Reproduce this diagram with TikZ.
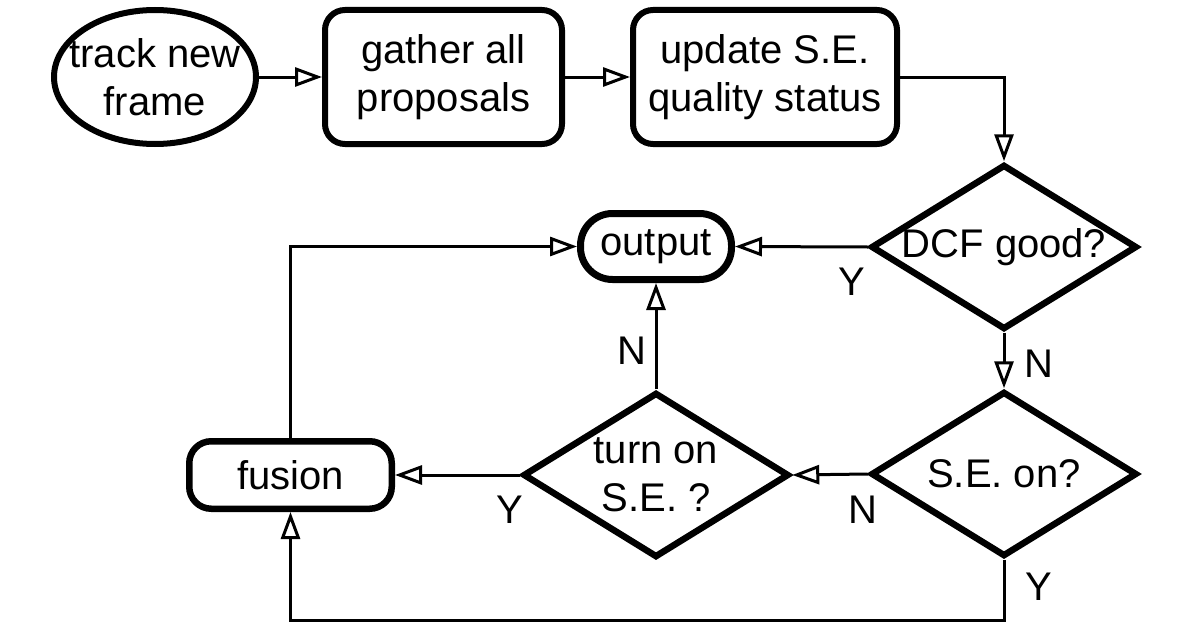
\documentclass[tikz,border=0pt]{standalone}
\usepackage{fontspec}
\setmainfont{Liberation Sans}
\usetikzlibrary{arrows.meta,shapes.geometric}
\begin{document}
\begin{tikzpicture}[x=1pt,y=-1pt,
  every node/.style={font=\fontsize{40}{48}\selectfont},
  txt/.style={inner sep=0pt, align=center},
  procbox/.style={draw, line width=6pt, rounded corners=20pt, inner sep=0pt, align=center},
  startend/.style={draw, ellipse, line width=6pt, inner sep=0pt},
  decision/.style={draw, diamond, line width=6.5pt, inner sep=0pt, minimum width=266pt, minimum height=165pt},
  conn/.style={line width=3pt, -{Triangle[open,length=27pt,width=19pt]}},
  lbl/.style={inner sep=0pt}
]
\path[fill=white] (0,0) rectangle (1196,634);

% nodes
\node[startend, minimum width=202pt, minimum height=134pt] (track) at (155,77) {};
\node[txt] (tracktxt) at (track) {track new\\frame};
\node[procbox, minimum width=237pt, minimum height=134pt] (gather) at (443.5,77) {gather all\\proposals};
\node[procbox, minimum width=264pt, minimum height=134pt] (update) at (765,77) {update S.E.\\quality status};
\node[decision] (dcf) at (1004,247) {};
\node[txt] (dcftxt) at (dcf) {DCF good?};
\node[procbox, line width=7pt, rounded corners=32pt, minimum width=151pt, minimum height=66pt] (output) at (656,246.5) {output};
\node[decision] (seon) at (1004,474) {};
\node[txt] (seontxt) at (seon) {S.E. on?};
\node[decision] (turnon) at (656,475) {};
\node[txt] (turnontxt) at (turnon) {turn on\\S.E. ?};
\node[procbox, line width=6.5pt, rounded corners=22pt, minimum width=202.5pt, minimum height=67.5pt] (fusion) at (290.5,475) {fusion};
\coordinate (botline) at (0,620);

% connectors
\draw[conn] (track.east) -- (gather.west);
\draw[conn] (gather.east) -- (update.west);
\draw[conn] (update.east) -| (dcf.north);
\draw[conn] (dcf.west) -- (output.east);
\draw[conn] (dcf.south) -- (seon.north);
\draw[conn] (seon.west) -- (turnon.east);
\draw[conn] (turnon.north) -- (output.south);
\draw[conn] (turnon.west) -- (fusion.east);
\draw[conn] (fusion.north) |- (output.west);
\draw[conn] (seon.south) -- (seon.south |- botline) -| (fusion.south);

% labels
\node[lbl] (ly1) at (852,282) {Y};
\node[lbl] (ln1) at (1039,364) {N};
\node[lbl] (ln2) at (632,351) {N};
\node[lbl] (ln3) at (863,510) {N};
\node[lbl] (ly2) at (510,510) {Y};
\node[lbl] (ly3) at (1039,587) {Y};
\end{tikzpicture}
\end{document}
